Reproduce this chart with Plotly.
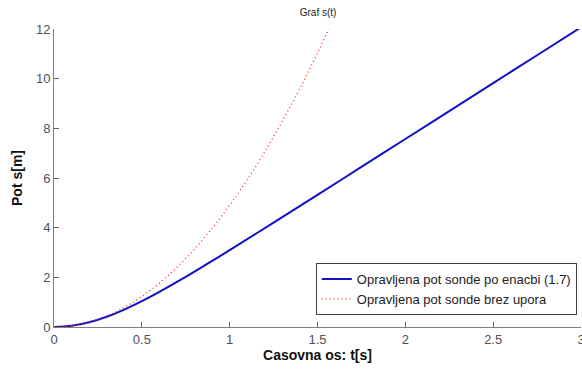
import plotly.graph_objects as go

# Data
t_drag = [0, 0.1, 0.2, 0.3, 0.4, 0.5, 0.6, 0.7, 0.8, 0.9, 1.0, 1.25, 1.5, 1.75, 2.0, 2.25, 2.5, 2.75, 3.0]
s_drag = [0, 0.049, 0.19, 0.413, 0.702, 1.042, 1.415, 1.815, 2.231, 2.659, 3.095, 4.203, 5.32, 6.445, 7.57, 8.694, 9.82, 10.944, 12.07]

t_free = [0, 0.1, 0.2, 0.3, 0.4, 0.5, 0.6, 0.7, 0.8, 0.9, 1.0, 1.1, 1.2, 1.3, 1.4, 1.5, 1.6]
s_free = [0, 0.049, 0.196, 0.441, 0.785, 1.226, 1.766, 2.403, 3.139, 3.973, 4.905, 5.935, 7.063, 8.289, 9.614, 11.036, 12.557]

x_ticks = [0, 0.5, 1, 1.5, 2, 2.5, 3]
x_labels = ["0", "0.5", "1", "1.5", "2", "2.5", "3"]
y_ticks = [0, 2, 4, 6, 8, 10, 12]

names = ["Opravljena pot sonde po enacbi (1.7)", "Opravljena pot sonde brez upora"]

fig = go.Figure()
fig.add_trace(go.Scatter(x=t_drag, y=s_drag, mode="lines", name=names[0],
                         line=dict(color="#1010c8", width=2, shape="spline")))
fig.add_trace(go.Scatter(x=t_free, y=s_free, mode="lines", name=names[1],
                         line=dict(color="#f03030", width=1.3, dash="1px,3px", shape="spline")))

axis_common = dict(showgrid=False, zeroline=False, showline=True, linecolor="#808080",
                   linewidth=1, ticks="inside", ticklen=5, tickcolor="#606060",
                   ticklabeloverflow="allow", automargin=False,
                   tickfont=dict(family="Liberation Sans, Arial", size=13, color="#505050"))

fig.update_layout(
    width=582, height=369,
    margin=dict(l=54, r=1, t=29, b=42),
    paper_bgcolor="white", plot_bgcolor="white",
    title=dict(text="Graf s(t)", x=0.5465, xanchor="center", y=0.965, yanchor="middle",
               font=dict(family="Liberation Sans, Arial", size=10, color="#222222")),
    xaxis=dict(range=[0, 3], tickvals=x_ticks, ticktext=x_labels,
               title=dict(text="<b>Casovna os: t[s]</b>", standoff=2,
                          font=dict(family="Liberation Sans, Arial", size=14, color="#111111")),
               **axis_common),
    yaxis=dict(range=[0, 12], tickvals=y_ticks,
               title=dict(text="<b>Pot s[m]</b>", standoff=10,
                          font=dict(family="Liberation Sans, Arial", size=14, color="#111111")),
               **axis_common),
    legend=dict(x=0.992, xanchor="right", y=0.215, yanchor="top",
                bgcolor="white", bordercolor="#404040", borderwidth=1,
                font=dict(family="Liberation Sans, Arial", size=13, color="#222222"),
                tracegroupgap=0, itemwidth=30),
    showlegend=True,
)

fig.write_html("out.html")
